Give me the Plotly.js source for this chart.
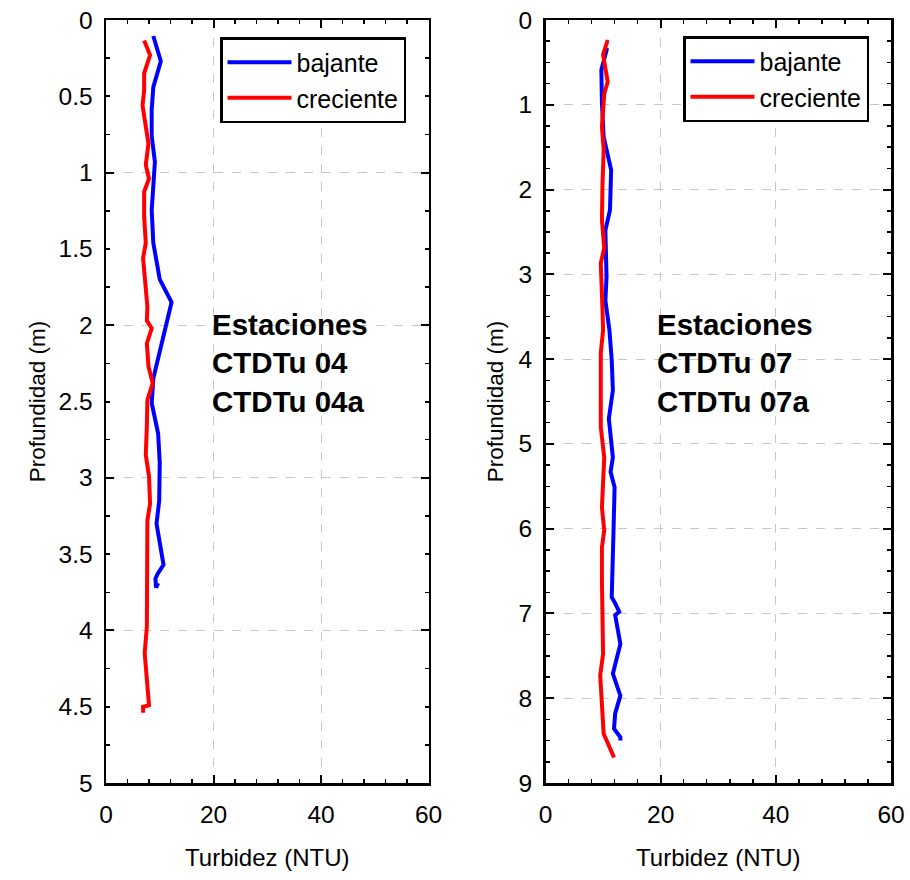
<!DOCTYPE html>
<html>
<head>
<meta charset="utf-8">
<script src="https://cdn.plot.ly/plotly-3.0.1.min.js"></script>
<style>html,body{margin:0;padding:0;background:#fff;}#chart{width:910px;height:880px;}</style>
</head>
<body>
<div id="chart"></div>
<script>
// Estaciones CTDTu 04 / 04a : Turbidez (NTU) vs Profundidad (m)
const st04_bajante_turb = [8.8,10.2,8.8,8.5,8.5,9.1,8.8,8.5,8.8,10.0,12.2,8.8,8.5,9.7,10.0,9.9,9.4,10.7,9.6,9.2,9.3,9.7];
const st04_bajante_prof = [0.105,0.27,0.44,0.59,0.76,0.93,1.09,1.245,1.46,1.70,1.85,2.35,2.51,2.71,2.9,3.15,3.3,3.57,3.63,3.66,3.72,3.69];
const st04_creciente_turb = [7.1,8.2,7.1,7.1,6.8,7.2,7.9,7.4,8.0,7.1,7.1,7.4,6.9,7.2,7.7,7.6,8.5,7.6,7.9,8.7,7.7,7.6,7.4,8.0,8.2,7.7,7.7,7.6,7.2,7.7,8.0,6.9,6.9];
const st04_creciente_prof = [0.135,0.23,0.35,0.46,0.56,0.66,0.81,0.95,1.04,1.125,1.29,1.46,1.56,1.68,1.88,1.97,2.02,2.12,2.27,2.38,2.49,2.66,2.85,2.99,3.17,3.28,3.80,3.975,4.15,4.33,4.49,4.50,4.54];

// Estaciones CTDTu 07 / 07a
const st07_bajante_turb = [10.7,9.7,9.8,10.1,11.4,11.2,10.4,10.6,10.4,11.1,11.5,11.7,11.0,11.7,11.3,12.0,11.8,11.5,12.1,12.8,12.1,13.0,11.7,13.0,12.1,11.9,13.0,13.0];
const st07_bajante_prof = [0.33,0.59,0.98,1.38,1.77,2.24,2.48,3.03,3.31,3.66,4.01,4.37,4.70,5.16,5.33,5.51,6.06,6.81,6.88,6.98,7.02,7.36,7.71,7.97,8.18,8.36,8.46,8.5];
const st07_creciente_turb = [10.8,10.0,10.8,10.2,9.8,10.1,9.9,9.8,10.2,9.6,9.9,10.0,9.6,9.7,9.6,10.2,9.8,10.2,9.8,9.8,10.0,9.5,10.1,11.9];
const st07_creciente_prof = [0.236,0.41,0.73,0.87,1.26,1.53,1.93,2.36,2.69,2.87,3.42,3.66,3.93,4.45,4.80,5.16,5.75,6.02,6.22,6.61,7.48,7.73,8.42,8.70];

const seriesNames = ['bajante','creciente'];
const seriesColors = ['#0000ff','#ff0000'];
const panelLabels = ['<b>Estaciones<br>CTDTu 04<br>CTDTu 04a</b>','<b>Estaciones<br>CTDTu 07<br>CTDTu 07a</b>'];
const xTitle = 'Turbidez (NTU)';
const yTitle = 'Profundidad (m)';

const FONT = 'Liberation Sans, Arial, sans-serif';
const LW = 4;

const traces = [
  {x: st04_bajante_turb, y: st04_bajante_prof, xaxis:'x', yaxis:'y', name: seriesNames[0], legend:'legend', mode:'lines', line:{color:seriesColors[0], width:LW}},
  {x: st04_creciente_turb, y: st04_creciente_prof, xaxis:'x', yaxis:'y', name: seriesNames[1], legend:'legend', mode:'lines', line:{color:seriesColors[1], width:LW}},
  {x: st07_bajante_turb, y: st07_bajante_prof, xaxis:'x2', yaxis:'y2', name: seriesNames[0], legend:'legend2', mode:'lines', line:{color:seriesColors[0], width:LW}},
  {x: st07_creciente_turb, y: st07_creciente_prof, xaxis:'x2', yaxis:'y2', name: seriesNames[1], legend:'legend2', mode:'lines', line:{color:seriesColors[1], width:LW}},
  {x: [], y: [], xaxis:'x', yaxis:'y3', showlegend:false, mode:'lines', hoverinfo:'skip'}
];

const gridStyle = {showgrid:true, gridcolor:'#c8c8c8', griddash:'dash', gridwidth:1};
const common = {
  showline:true, linecolor:'#000', linewidth:2.5, mirror:'ticks',
  ticks:'inside', tickcolor:'#000', tickwidth:2, zeroline:false,
  tickfont:{family:FONT, size:24.5, color:'#000'}
};

const xAxisBase = Object.assign({}, common, gridStyle, {
  range:[0,60], dtick:20, tick0:0, ticklen:8, ticklabelstandoff:8,
  minor:{dtick:4, ticks:'inside', ticklen:4, tickcolor:'#000', tickwidth:1.5, showgrid:false},
  title:{text:xTitle, font:{family:FONT, size:24, color:'#000'}, standoff:23}
});

const layout = {
  width:910, height:880,
  margin:{l:0, r:0, t:20, b:97},
  paper_bgcolor:'#fff', plot_bgcolor:'#fff',
  font:{family:FONT, color:'#000'},
  xaxis: Object.assign({}, xAxisBase, {domain:[106/910, 428.5/910], anchor:'y'}),
  xaxis2: Object.assign({}, xAxisBase, {domain:[545.5/910, 891/910], anchor:'y2'}),
  yaxis: Object.assign({}, common, gridStyle, {
    range:[5,0], dtick:1, tick0:0, ticklen:8, showticklabels:false, anchor:'x'
  }),
  yaxis3: Object.assign({}, common, {
    overlaying:'y', anchor:'x', side:'left', range:[5,0], dtick:0.5, tick0:0, ticklen:4,
    showgrid:false, ticklabelstandoff:6,
    minor:{dtick:0.25, ticks:'inside', ticklen:4, tickcolor:'#000', tickwidth:1.5, showgrid:false},
    title:{text:yTitle, font:{family:FONT, size:22.5, color:'#000'}, standoff:7}
  }),
  yaxis2: Object.assign({}, common, gridStyle, {
    range:[9,0], dtick:1, tick0:0, ticklen:8, anchor:'x2', ticklabelstandoff:6,
    minor:{dtick:0.25, ticks:'inside', ticklen:4, tickcolor:'#000', tickwidth:1.5, showgrid:false},
    title:{text:yTitle, font:{family:FONT, size:22.5, color:'#000'}, standoff:9}
  }),
  legend:{x:220/910, y:1-(37-20)/763, xanchor:'left', yanchor:'top', bgcolor:'#fff', bordercolor:'#000', borderwidth:2.5,
    font:{family:FONT, size:25, color:'#000'}, itemwidth:64, tracegroupgap:0},
  legend2:{x:683/910, y:1-(36-20)/763, xanchor:'left', yanchor:'top', bgcolor:'#fff', bordercolor:'#000', borderwidth:2.5,
    font:{family:FONT, size:25, color:'#000'}, itemwidth:64, tracegroupgap:0},
  annotations:[
    {xref:'x', yref:'paper', x:19.3, y:1-(363-20)/763, xanchor:'left', yanchor:'middle', align:'left', showarrow:false,
     text:panelLabels[0], font:{family:FONT, size:29.5, color:'#000'}},
    {xref:'x2', yref:'paper', x:19.0, y:1-(363-20)/763, xanchor:'left', yanchor:'middle', align:'left', showarrow:false,
     text:panelLabels[1], font:{family:FONT, size:29.5, color:'#000'}}
  ],
  showlegend:true
};

Plotly.newPlot('chart', traces, layout, {staticPlot:true, displayModeBar:false});
</script>
</body>
</html>
